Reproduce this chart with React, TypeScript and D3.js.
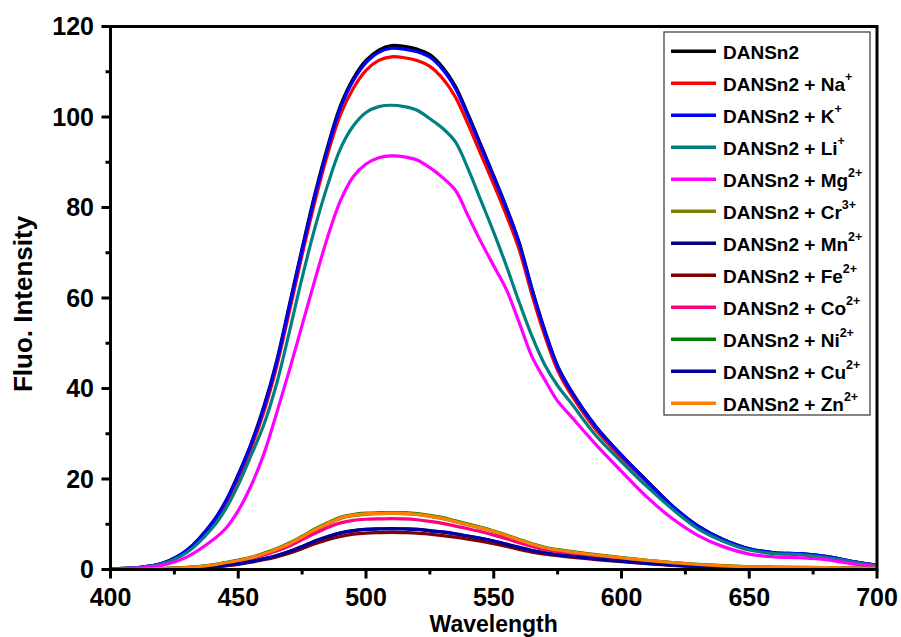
import React from "react";
import * as d3 from "d3";

const wavelengths = [400,410,420,430,440,445,450,455,460,465,470,475,480,485,490,495,500,505,510,515,520,525,530,535,540,545,550,555,560,565,570,575,580,590,600,610,620,630,640,650,660,670,680,690,700];

const sDANSn2 = [0.1,0.4,1.3,4.3,10.5, 15.0,21.0,27.8,36.0,46.0,58.5,71.0,83.0,93.5,102.5, 108.5,112.5,114.8,115.8,115.6,115.0,113.8,111.0,106.8,100.5, 93.8,87.0,80.0,72.2,62.0,52.8,45.0,39.8, 31.6,25.3,19.6,14.0,9.6,6.6,4.6,3.7,3.5,2.9,1.8,0.9];
const sNa = [0.1,0.4,1.2,4.0,10.0, 14.3,20.0,26.8,34.8,44.8,57.0,69.5,81.3,91.8,100.5, 106.3,110.3,112.5,113.3,113.1,112.5,111.2,108.5,104.4,98.3, 91.7,85.1,78.2,70.6,60.6,51.6,44.0,38.9, 30.9,24.7,19.2,13.7,9.4,6.5,4.5,3.6,3.4,2.8,1.8,0.9];
const sK = [0.1,0.4,1.3,4.3,10.4, 14.9,20.8,27.6,35.7,45.7,58.1,70.6,82.5,93.0,102.0, 108.0,112.0,114.3,115.2,115.0,114.4,113.2,110.5,106.3,100.1, 93.4,86.7,79.7,71.9,61.8,52.6,44.8,39.6, 31.5,25.2,19.5,14.0,9.6,6.6,4.6,3.7,3.5,2.9,1.8,0.9];
const sLi = [0.1,0.4,1.2,3.8,9.3, 13.3,18.7,25.2,32.0,41.0,52.5,64.5,75.5,85.0,93.0, 98.0,101.0,102.3,102.6,102.3,101.5,99.6,97.5,94.5,88.5, 81.5,74.5,67.0,59.0,51.5,45.2,40.6,37.0, 29.6,23.8,18.3,13.3,9.0,6.2,4.3,3.5,3.3,2.7,1.7,0.8];
const sMg = [0.1,0.3,0.9,2.8,6.5, 9.0,13.0,18.5,25.5,34.5,44.0,54.0,64.0,73.5,81.5, 86.8,89.6,91.0,91.4,91.2,90.5,88.8,86.6,83.8,78.1, 72.4,67.1,61.8,54.5,47.0,41.9,37.2,34.0, 27.6,21.7,16.0,11.2,7.5,5.0,3.4,2.8,2.6,2.2,1.3,0.6];
const sCr = [0.05,0.1,0.2,0.4,0.95, 1.45,1.95,2.55,3.45,4.45,5.65,7.1,8.7,10.1,11.3, 11.9,12.2,12.35,12.4,12.35,12.15,11.75,11.25,10.55,9.85, 9.15,8.35,7.45,6.45,5.55,4.75,4.25,3.85, 3.15,2.55,1.95,1.45,1.05,0.75,0.55,0.45,0.4,0.35,0.3,0.2];
const sMn = [0.02,0.05,0.1,0.25,0.6, 0.9,1.3,1.8,2.4,3.1,4.0,5.1,6.3,7.3,8.1, 8.6,8.9,9.0,9.05,9.0,8.9,8.6,8.3,7.9,7.4, 6.9,6.3,5.6,4.9,4.2,3.7,3.3,3.0, 2.4,1.9,1.4,1.0,0.7,0.45,0.3,0.25,0.2,0.2,0.15,0.1];
const sFe = [0.02,0.04,0.08,0.2,0.5, 0.8,1.15,1.6,2.15,2.8,3.6,4.6,5.7,6.6,7.3, 7.8,8.05,8.15,8.2,8.15,8.05,7.8,7.5,7.15,6.7, 6.25,5.7,5.1,4.45,3.85,3.4,3.05,2.75, 2.2,1.75,1.3,0.9,0.6,0.4,0.28,0.22,0.2,0.18,0.14,0.1];
const sCo = [0.05,0.1,0.2,0.4,0.9, 1.35,1.85,2.4,3.2,4.1,5.2,6.6,8.0,9.3,10.3, 10.85,11.1,11.2,11.25,11.2,11.0,10.65,10.2,9.6,9.0, 8.35,7.6,6.8,5.9,5.1,4.4,3.95,3.6, 2.95,2.4,1.85,1.4,1.0,0.75,0.55,0.45,0.4,0.35,0.3,0.2];
const sNi = [0.05,0.1,0.2,0.45,1.05, 1.55,2.1,2.7,3.6,4.6,5.85,7.35,8.95,10.35,11.55, 12.15,12.45,12.55,12.6,12.55,12.35,11.95,11.45,10.75,10.05, 9.3,8.5,7.6,6.6,5.7,4.9,4.4,4.0, 3.3,2.65,2.05,1.55,1.15,0.85,0.6,0.5,0.45,0.4,0.3,0.25];
const sCu = [0.02,0.05,0.1,0.25,0.6, 0.9,1.3,1.75,2.35,3.05,3.95,5.05,6.25,7.25,8.05, 8.55,8.85,8.95,9.0,8.95,8.85,8.55,8.25,7.85,7.35, 6.85,6.25,5.55,4.85,4.15,3.65,3.25,2.95, 2.35,1.85,1.35,0.95,0.65,0.45,0.3,0.25,0.2,0.2,0.15,0.1];
const sZn = [0.05,0.1,0.2,0.4,1.0, 1.5,2.0,2.6,3.5,4.5,5.7,7.2,8.8,10.2,11.4, 12.0,12.3,12.4,12.45,12.4,12.2,11.8,11.3,10.6,9.9, 9.2,8.4,7.5,6.5,5.6,4.8,4.3,3.9, 3.2,2.6,2.0,1.5,1.1,0.8,0.6,0.5,0.45,0.4,0.3,0.25];

const seriesValues = [sDANSn2, sNa, sK, sLi, sMg, sCr, sMn, sFe, sCo, sNi, sCu, sZn];
const ions = ["", "Na", "K", "Li", "Mg", "Cr", "Mn", "Fe", "Co", "Ni", "Cu", "Zn"];
const charges = ["", "+", "+", "+", "2+", "3+", "2+", "2+", "2+", "2+", "2+", "2+"];
const colors = ["#000000", "#FF0000", "#0000FF", "#008080", "#FF00FF", "#808000", "#000080", "#800000", "#FF0080", "#008000", "#0000A0", "#FF8000"];

const xMajor = [400, 450, 500, 550, 600, 650, 700];
const xMinor = [425, 475, 525, 575, 625, 675];
const yMajor = [0, 20, 40, 60, 80, 100, 120];
const yMinor = [10, 30, 50, 70, 90, 110];

const FONT = "'Liberation Sans', Arial, Helvetica, sans-serif";

export default function App() {
  const W = 901, H = 637;
  const x = d3.scaleLinear().domain([400, 700]).range([110.5, 877]);
  const y = d3.scaleLinear().domain([0, 120]).range([569.5, 26.5]);
  const line = d3.line<number>()
    .x((_, i) => x(wavelengths[i]))
    .y((d) => y(d))
    .curve(d3.curveCatmullRom.alpha(0.5));

  const legX = 664, legY = 32, legW = 206, legH = 383;
  const rowY = (i: number) => 51.3 + i * 32.0;

  return (
    <svg width={W} height={H} style={{ position: "absolute", left: 0, top: 0, background: "#fff" }} fontFamily={FONT}>
      <rect x={0} y={0} width={W} height={H} fill="#fff" />
      <defs>
        <clipPath id="plotclip">
          <rect x={x(400)} y={y(120)} width={x(700) - x(400)} height={y(0) - y(120)} />
        </clipPath>
      </defs>
      <g clipPath="url(#plotclip)">
        {seriesValues.map((vals, k) => (
          <path key={k} d={line(vals) || ""} fill="none" stroke={colors[k]} strokeWidth={3.2} strokeLinejoin="round" />
        ))}
      </g>
      <rect x={x(400)} y={y(120)} width={x(700) - x(400)} height={y(0) - y(120)} fill="none" stroke="#000" strokeWidth={3} />
      {xMajor.map((v) => (
        <line key={"xM" + v} x1={x(v)} x2={x(v)} y1={y(0)} y2={y(0) + 9} stroke="#000" strokeWidth={3} />
      ))}
      {xMinor.map((v) => (
        <line key={"xm" + v} x1={x(v)} x2={x(v)} y1={y(0)} y2={y(0) + 5} stroke="#000" strokeWidth={3} />
      ))}
      {xMajor.map((v) => (
        <text key={"xl" + v} x={x(v)} y={605.5} textAnchor="middle" fontSize={25} fontWeight="bold">{v}</text>
      ))}
      {yMajor.map((v) => (
        <line key={"yM" + v} x1={x(400) - 9} x2={x(400)} y1={y(v)} y2={y(v)} stroke="#000" strokeWidth={3} />
      ))}
      {yMinor.map((v) => (
        <line key={"ym" + v} x1={x(400) - 5} x2={x(400)} y1={y(v)} y2={y(v)} stroke="#000" strokeWidth={3} />
      ))}
      {yMajor.map((v) => (
        <text key={"yl" + v} x={94} y={y(v) + 8.5} textAnchor="end" fontSize={25} fontWeight="bold">{v}</text>
      ))}
      <text x={493.7} y={631.5} textAnchor="middle" fontSize={23} fontWeight="bold">Wavelength</text>
      <text transform={`translate(32,${304}) rotate(-90)`} textAnchor="middle" fontSize={26} fontWeight="bold">Fluo. Intensity</text>
      <rect x={legX} y={legY} width={legW} height={legH} fill="#fff" stroke="#444" strokeWidth={1.3} />
      {ions.map((ion, i) => (
        <g key={"lg" + i}>
          <line x1={671} x2={716} y1={rowY(i)} y2={rowY(i)} stroke={colors[i]} strokeWidth={3.5} />
          <text x={723} y={rowY(i) + 8} fontSize={19} fontWeight="bold">
            {ion ? `DANSn2 + ${ion}` : "DANSn2"}
            {charges[i] ? <tspan dy={-10} fontSize={12.5}>{charges[i]}</tspan> : null}
          </text>
        </g>
      ))}
    </svg>
  );
}
